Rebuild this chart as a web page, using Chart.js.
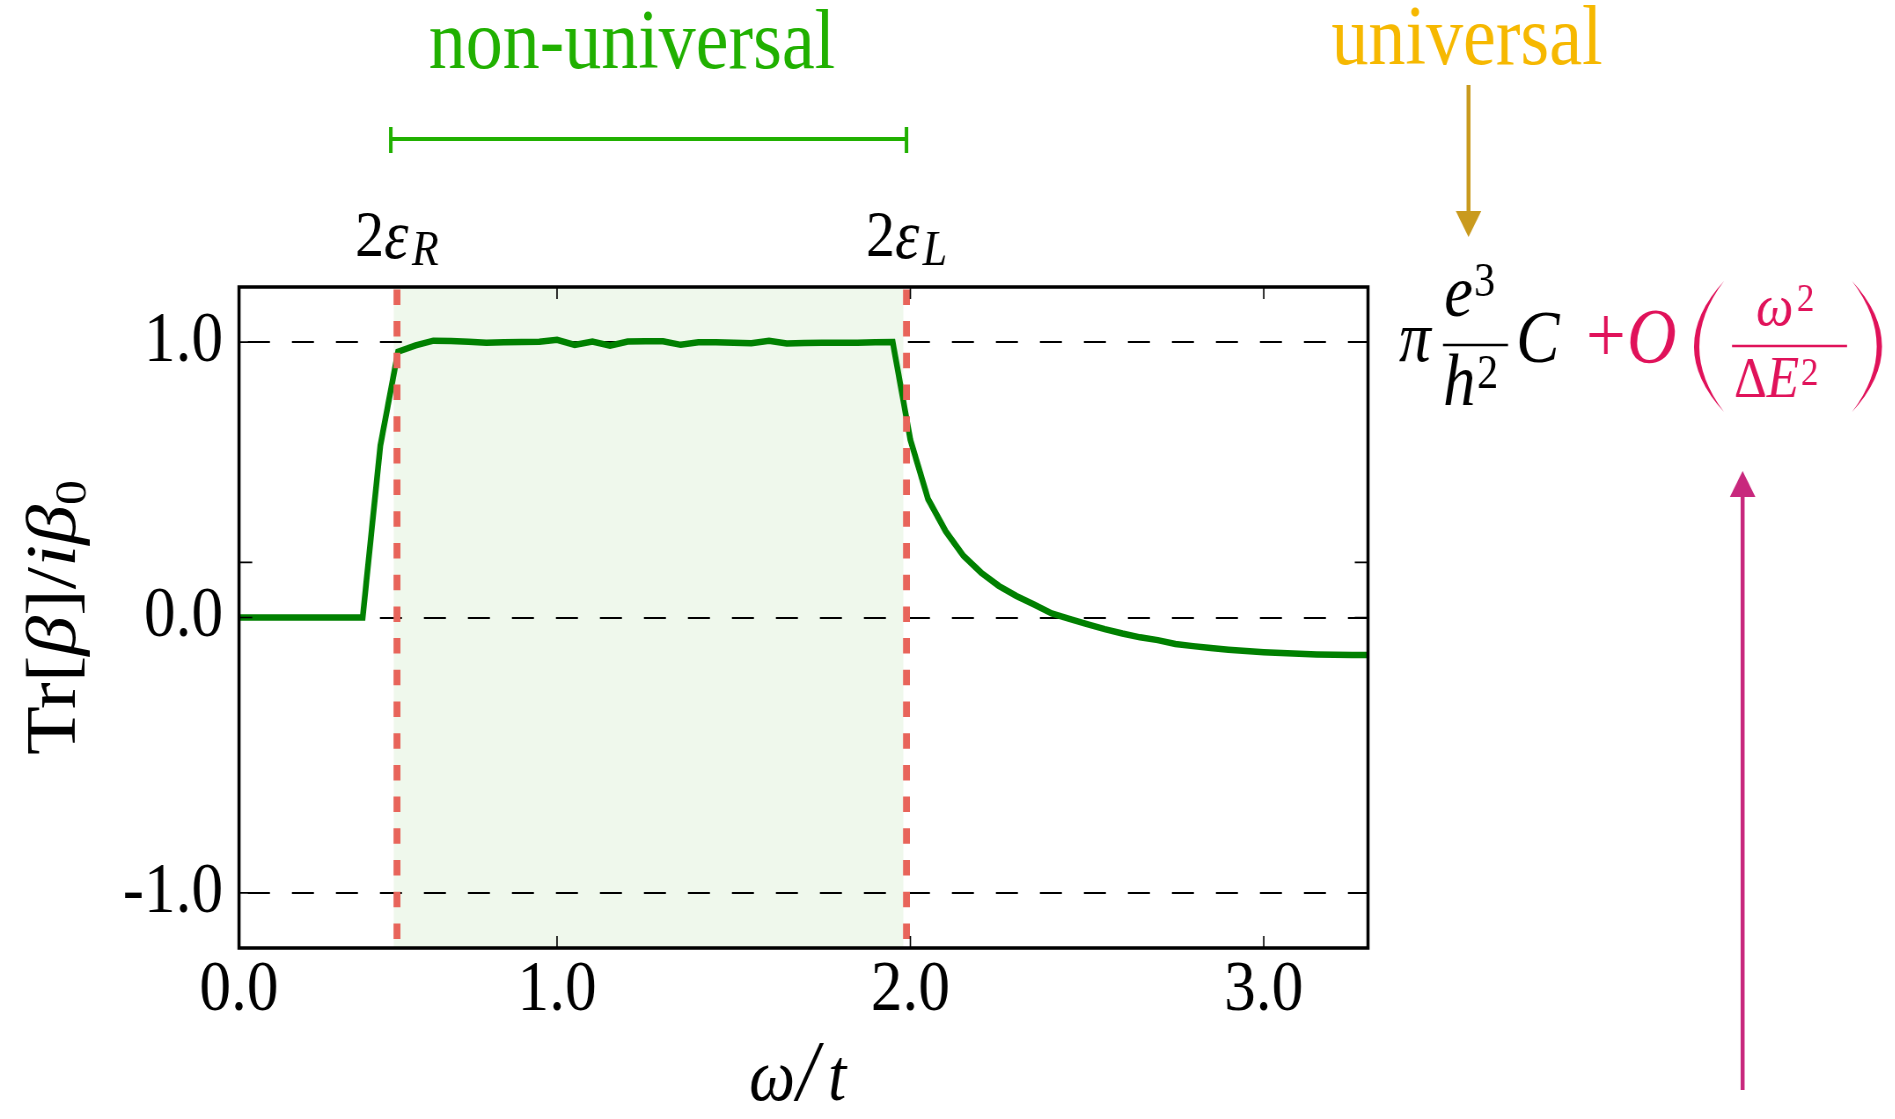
<!DOCTYPE html>
<html>
<head>
<meta charset="utf-8">
<title>Tr[β]/iβ0 vs ω/t</title>
<script src="https://cdn.jsdelivr.net/npm/chart.js@4.4.1/dist/chart.umd.min.js"></script>
<style>
  html, body { margin: 0; padding: 0; background: #fff; overflow: hidden; }
  /* canvas is laid out wider and squeezed back to 1895px */
  #wrap { width: 2154px; height: 1119px; transform: scaleX(0.88); transform-origin: 0 0; }
</style>
</head>
<body>
<div id="wrap"><canvas id="chartTr" width="2154" height="1119"></canvas></div>
<script>
// ---- data ----
var wOmega = [0.10, 0.15, 0.20, 0.25, 0.30, 0.35, 0.40, 0.45, 0.50, 0.55,
              0.60, 0.65, 0.70, 0.75, 0.80, 0.85, 0.90, 0.95, 1.00, 1.05,
              1.10, 1.15, 1.20, 1.25, 1.30, 1.35, 1.40, 1.45, 1.50, 1.55,
              1.60, 1.65, 1.70, 1.75, 1.80, 1.85, 1.90, 1.95, 2.00, 2.05,
              2.10, 2.15, 2.20, 2.25, 2.30, 2.35, 2.40, 2.45, 2.50, 2.55,
              2.60, 2.65, 2.70, 2.75, 2.80, 2.85, 2.90, 2.95, 3.00, 3.05,
              3.10, 3.15, 3.20, 3.25, 3.30];
var trBeta = [0, 0, 0, 0, 0, 0, 0, 0, 0.624, 0.965,
              0.988, 1.005, 1.004, 1.001, 0.998, 0.999, 1.000, 1.001, 1.008, 0.990,
              1.002, 0.987, 1.002, 1.003, 1.003, 0.990, 0.999, 0.999, 0.998, 0.996,
              1.005, 0.995, 0.997, 0.998, 0.998, 0.998, 0.999, 1.000, 0.645, 0.430,
              0.313, 0.224, 0.163, 0.115, 0.078, 0.047, 0.015, -0.005, -0.024, -0.042,
              -0.058, -0.072, -0.082, -0.096, -0.104, -0.111, -0.117, -0.122, -0.126, -0.129,
              -0.132, -0.134, -0.135, -0.136, -0.136];

var edges = [0.547, 1.989];          // 2eps_R , 2eps_L
var xTickVals = [0.1, 1, 2, 3];
var xTickLabels = ['0.0', '1.0', '2.0', '3.0'];
var yTickVals = [-1, 0, 0.2, 1];
var yTickLabels = ['-1.0', '0.0', '', '1.0'];
var refLines = [-1, 0, 1];           // dashed guides

var S = 0.88;                        // horizontal squeeze of the wrapper
function lx(px) { return px / S; }   // page x -> canvas x
var FAM = '"Liberation Serif", "Times New Roman", serif';
function fnt(size, it) { return (it ? 'italic ' : '') + size + 'px ' + FAM; }

var GREEN_TXT = '#20b000';
var GOLD_TXT = '#f6b800';
var CRIMSON = '#e0125a';

// draw a run of [text, size, italic, dy, gapBefore] pieces
function runs(ctx, list, x, y, align, color) {
  var w = 0;
  list.forEach(function (r) { ctx.font = fnt(r[1], r[2]); w += ctx.measureText(r[0]).width + (r[4] || 0); });
  var cx = align === 'center' ? x - w / 2 : x;
  ctx.fillStyle = color;
  ctx.textAlign = 'left';
  ctx.textBaseline = 'alphabetic';
  list.forEach(function (r) {
    ctx.font = fnt(r[1], r[2]);
    cx += (r[4] || 0);
    ctx.fillText(r[0], cx, y + (r[3] || 0));
    cx += ctx.measureText(r[0]).width;
  });
}

function glyph(ctx, t, xPage, y, size, it, color) {
  ctx.font = fnt(size, it);
  ctx.fillStyle = color;
  ctx.textAlign = 'left';
  ctx.textBaseline = 'alphabetic';
  ctx.fillText(t, lx(xPage), y);
}

// tall bracket drawn as a crescent between its two tips and its bulge
function paren(ctx, xEndPage, xMidPage, top, bottom, color) {
  var xe = lx(xEndPage), xm = lx(xMidPage), mid = (top + bottom) / 2;
  var inner = xm + (xe > xm ? 6 : -6);
  ctx.fillStyle = color;
  ctx.beginPath();
  ctx.moveTo(xe, top);
  ctx.quadraticCurveTo(2 * xm - xe, mid, xe, bottom);
  ctx.quadraticCurveTo(2 * inner - xe, mid, xe, top);
  ctx.closePath();
  ctx.fill();
}

function hline(ctx, x0Page, x1Page, y, w, color) {
  ctx.strokeStyle = color;
  ctx.lineWidth = w;
  ctx.beginPath();
  ctx.moveTo(lx(x0Page), y);
  ctx.lineTo(lx(x1Page), y);
  ctx.stroke();
}

function arrow(ctx, xPage, yFrom, yTip, color) {
  var x = lx(xPage), dir = yTip > yFrom ? 1 : -1, head = 26;
  ctx.strokeStyle = color;
  ctx.fillStyle = color;
  ctx.lineWidth = 4.5;
  ctx.beginPath();
  ctx.moveTo(x, yFrom);
  ctx.lineTo(x, yTip - dir * head);
  ctx.stroke();
  ctx.beginPath();
  ctx.moveTo(x, yTip);
  ctx.lineTo(x - 14.5, yTip - dir * head);
  ctx.lineTo(x + 14.5, yTip - dir * head);
  ctx.closePath();
  ctx.fill();
}

var decor = {
  id: 'decor',
  beforeDraw: function (chart) {
    var ctx = chart.ctx, a = chart.chartArea, x = chart.scales.x;
    ctx.save();
    ctx.fillStyle = '#fff';
    ctx.fillRect(0, 0, chart.width, chart.height);
    // band between the two thresholds
    var x0 = x.getPixelForValue(edges[0]) - 3.6;
    var x1 = x.getPixelForValue(edges[1]) - 3.6;
    ctx.fillStyle = '#eff8ec';
    ctx.fillRect(x0, a.top, x1 - x0, a.bottom - a.top);
    ctx.restore();
  },
  afterDraw: function (chart) {
    var ctx = chart.ctx, a = chart.chartArea, x = chart.scales.x, y = chart.scales.y;
    ctx.save();

    // frame
    ctx.strokeStyle = '#000';
    ctx.lineWidth = 3.5;
    ctx.strokeRect(a.left, a.top, a.right - a.left, a.bottom - a.top);

    // inward ticks on all four sides
    ctx.lineWidth = 1.6;
    ctx.beginPath();
    xTickVals.forEach(function (v) {
      if (v <= x.min + 0.01) return;
      var px = x.getPixelForValue(v);
      ctx.moveTo(px, a.bottom); ctx.lineTo(px, a.bottom - 12);
      ctx.moveTo(px, a.top); ctx.lineTo(px, a.top + 12);
    });
    yTickVals.forEach(function (v) {
      var py = y.getPixelForValue(v);
      ctx.moveTo(a.left, py); ctx.lineTo(a.left + 15, py);
      ctx.moveTo(a.right, py); ctx.lineTo(a.right - 15, py);
    });
    ctx.stroke();

    // axis titles
    ctx.save();
    ctx.translate(lx(75), (a.top + a.bottom) / 2);
    ctx.rotate(-Math.PI / 2);
    runs(ctx, [['Tr[', 80, false], ['β', 80, true], [']/', 80, false], ['iβ', 80, true], ['0', 50, false, 12]],
         0, 0, 'center', '#000');
    ctx.restore();
    glyph(ctx, 'ω', 749, 1100, 74, true, '#000');
    glyph(ctx, '/', 797, 1100, 86, true, '#000');
    glyph(ctx, 't', 828, 1100, 74, true, '#000');

    // threshold labels
    var xr = x.getPixelForValue(edges[0]), xl = x.getPixelForValue(edges[1]);
    runs(ctx, [['2', 66, false], ['ε', 70, true, 2], ['R', 50, true, 9, 4]], xr, 256, 'center', '#000');
    runs(ctx, [['2', 66, false], ['ε', 70, true, 2], ['L', 50, true, 9, 4]], xl, 256, 'center', '#000');

    // non-universal window
    ctx.strokeStyle = GREEN_TXT;
    ctx.lineWidth = 4;
    ctx.beginPath();
    ctx.moveTo(xr - 7, 139); ctx.lineTo(xl, 139);
    ctx.moveTo(xr - 7, 127); ctx.lineTo(xr - 7, 153);
    ctx.moveTo(xl, 127); ctx.lineTo(xl, 153);
    ctx.stroke();
    ctx.font = fnt(84, false);
    ctx.fillStyle = GREEN_TXT;
    ctx.textAlign = 'center';
    ctx.textBaseline = 'alphabetic';
    ctx.fillText('non-universal', lx(632), 68);

    // universal limit
    ctx.fillStyle = GOLD_TXT;
    ctx.fillText('universal', lx(1467), 64);
    arrow(ctx, 1468.5, 85, 237, '#c99a1e');

    // pi e^3/h^2 C
    glyph(ctx, 'π', 1399, 361, 72, true, '#000');
    glyph(ctx, 'e', 1444, 316, 74, true, '#000');
    glyph(ctx, '3', 1474, 296, 48, false, '#000');
    hline(ctx, 1443, 1508, 345, 2.5, '#000');
    glyph(ctx, 'h', 1443, 405, 74, true, '#000');
    glyph(ctx, '2', 1477, 388, 48, false, '#000');
    glyph(ctx, 'C', 1516, 362, 74, true, '#000');

    // + O(w^2 / dE^2)
    glyph(ctx, '+', 1586, 362, 80, false, CRIMSON);
    glyph(ctx, 'O', 1627, 362, 78, true, CRIMSON);
    paren(ctx, 1724, 1694, 281, 412, CRIMSON);
    runs(ctx, [['ω', 60, true], ['2', 40, false, -14, 4]], lx(1756), 325, 'left', CRIMSON);
    hline(ctx, 1732, 1847, 346, 2.5, CRIMSON);
    runs(ctx, [['Δ', 58, false], ['E', 60, true], ['2', 40, false, -12, 2]], lx(1734), 397, 'left', CRIMSON);
    paren(ctx, 1852, 1882, 281, 412, CRIMSON);

    arrow(ctx, 1742.6, 1090, 471, '#c8287d');
    ctx.restore();
  }
};

var pts = wOmega.map(function (w, i) { return { x: w, y: trBeta[i] }; });

var edgeSets = edges.map(function (e) {
  return {
    data: [{ x: e, y: -1.2 }, { x: e, y: 1.2 }],
    borderColor: '#e8645a',
    borderWidth: 7.8,
    borderDash: [15.5, 16.2],
    borderDashOffset: 22.6,
    pointRadius: 0,
    order: 0
  };
});

var ctx = document.getElementById('chartTr').getContext('2d');
var chart = new Chart(ctx, {
  type: 'line',
  data: {
    datasets: [{
      data: pts,
      borderColor: '#008000',
      borderWidth: 6.5,
      pointRadius: 0,
      tension: 0,
      order: 1
    }].concat(edgeSets)
  },
  options: {
    responsive: false,
    animation: false,
    devicePixelRatio: 1,
    layout: { padding: { left: 0, right: 599.5, top: 287, bottom: 0 } },
    plugins: { legend: { display: false }, tooltip: { enabled: false } },
    scales: {
      x: {
        type: 'linear',
        min: 0.1,
        max: 3.295,
        afterBuildTicks: function (s) { s.ticks = xTickVals.map(function (v) { return { value: v }; }); },
        afterFit: function (s) { s.height = 171; },
        ticks: {
          callback: function (v, i) { return xTickLabels[i]; },
          font: { family: FAM, size: 72 },
          color: '#000',
          padding: 0,
          autoSkip: false,
          maxRotation: 0,
          minRotation: 0
        },
        grid: { display: false, drawTicks: false },
        border: { display: false }
      },
      y: {
        type: 'linear',
        min: -1.2,
        max: 1.2,
        afterBuildTicks: function (s) { s.ticks = yTickVals.map(function (v) { return { value: v }; }); },
        afterFit: function (s) { s.width = lx(239); },
        ticks: {
          callback: function (v, i) { return yTickLabels[i]; },
          font: { family: FAM, size: 72 },
          color: '#000',
          padding: 18,
          autoSkip: false
        },
        grid: {
          drawTicks: false,
          lineWidth: 2,
          color: function (c) {
            return (c.tick && refLines.indexOf(c.tick.value) >= 0) ? '#000' : 'rgba(0,0,0,0)';
          }
        },
        border: { display: false, dash: [25, 25], dashOffset: 40.3 }
      }
    }
  },
  plugins: [decor]
});
</script>
</body>
</html>
